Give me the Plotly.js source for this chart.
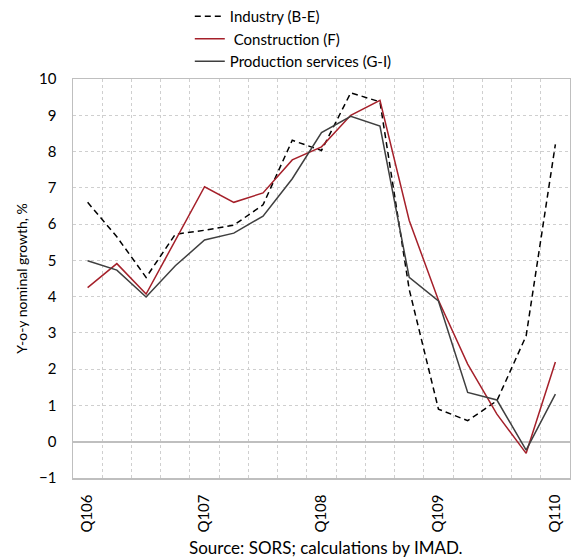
<!DOCTYPE html>
<html>
<head>
<meta charset="utf-8">
<script src="https://cdn.plot.ly/plotly-3.0.1.min.js"></script>
<style>
html,body{margin:0;padding:0;background:#fff;}
#chart{width:571px;height:557px;}
</style>
</head>
<body>
<div id="chart"></div>
<script>
var quarters = ["Q106","Q206","Q306","Q406","Q107","Q207","Q307","Q407","Q108","Q208","Q308","Q408","Q109","Q209","Q309","Q409","Q110"];
var tickLabels = ["Q106","","","","Q107","","","","Q108","","","","Q109","","","","Q110"];
var industry = [6.6, 5.65, 4.53, 5.72, 5.83, 5.97, 6.53, 8.31, 8.03, 9.62, 9.37, 4.2, 0.9, 0.58, 1.13, 2.92, 8.2];
var construction = [4.25, 4.91, 4.07, 5.55, 7.03, 6.6, 6.86, 7.77, 8.13, 9.0, 9.41, 6.1, 3.9, 2.14, 0.76, -0.32, 2.2];
var services = [4.99, 4.73, 3.99, 4.85, 5.56, 5.75, 6.22, 7.25, 8.52, 8.97, 8.7, 4.53, 3.88, 1.36, 1.15, -0.23, 1.31];
var seriesNames = ["Industry (B-E)", "\u00a0Construction (F)", "Production services (G-I)"];

var FONT = "Lato, 'Open Sans', sans-serif";

var traces = [
  {x: quarters, y: industry, name: seriesNames[0], type: "scatter", mode: "lines",
   line: {color: "#000000", width: 1.5, dash: "6px,4px"}},
  {x: quarters, y: construction, name: seriesNames[1], type: "scatter", mode: "lines",
   line: {color: "#a5202a", width: 1.5}},
  {x: quarters, y: services, name: seriesNames[2], type: "scatter", mode: "lines",
   line: {color: "#3f3f3f", width: 1.5}}
];

var layout = {
  width: 571, height: 557,
  margin: {l: 73, r: 1, t: 78, b: 79},
  paper_bgcolor: "#ffffff", plot_bgcolor: "#ffffff",
  font: {family: FONT, size: 15, color: "#000"},
  showlegend: true,
  legend: {x: 0.235, xanchor: "left", y: 1.0, yanchor: "bottom",
           font: {family: FONT, size: 15, color: "#000"}, tracegroupgap: 0,
           bgcolor: "rgba(0,0,0,0)"},
  xaxis: {type: "category", range: [-0.5, 16.5], tickmode: "array",
          tickvals: quarters, ticktext: tickLabels, tickson: "boundaries",
          ticks: "", tickangle: -90, ticklabelstandoff: 9,
          showgrid: true, gridcolor: "#cfcfcf",
          griddash: "dot", gridwidth: 1, showline: true, mirror: true,
          linecolor: "#bfbfbf", linewidth: 1.5, zeroline: false,
          tickfont: {family: FONT, size: 15}},
  yaxis: {range: [-1, 10], dtick: 1, tick0: 0, showgrid: true,
          gridcolor: "#cfcfcf", griddash: "dot", gridwidth: 1,
          zeroline: true, zerolinecolor: "#bfbfbf", zerolinewidth: 2,
          showline: true, mirror: true, linecolor: "#bfbfbf", linewidth: 1.5,
          ticks: "", ticklabelstandoff: 12, tickfont: {family: FONT, size: 15},
          title: {text: "Y-o-y nominal growth, %", font: {family: FONT, size: 14}, standoff: 8}},
  annotations: [{text: "Source: SORS; calculations by IMAD.", xref: "paper", yref: "paper",
                 x: 0.51, y: -0.175, xanchor: "center", yanchor: "middle", showarrow: false,
                 font: {family: FONT, size: 17}}]
};

Plotly.newPlot("chart", traces, layout, {displayModeBar: false, staticPlot: true});
</script>
</body>
</html>
